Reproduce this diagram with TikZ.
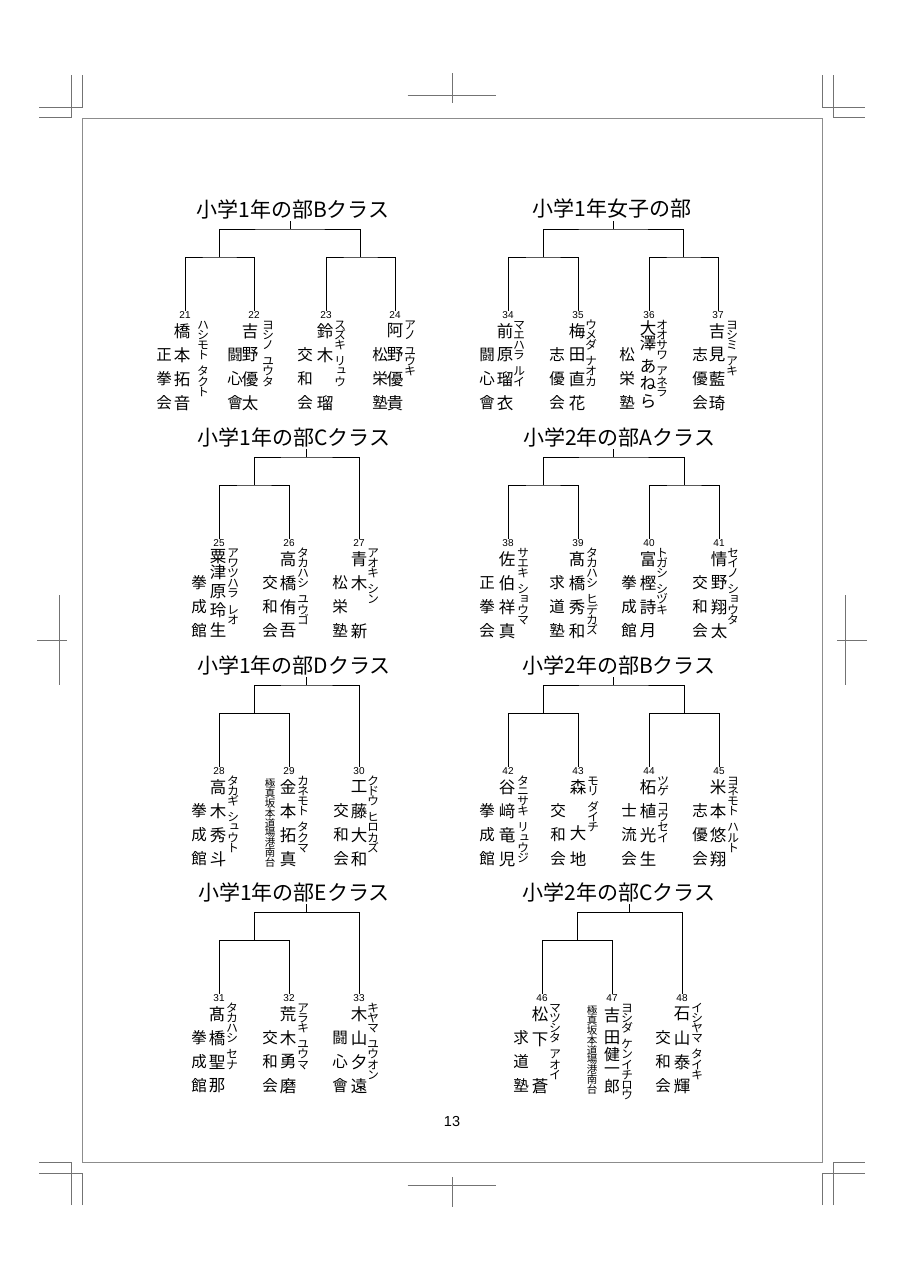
\documentclass[tikz,border=0pt]{standalone}
\usepackage{fontspec}
\newfontfamily\jp{Noto Sans CJK JP}
\newfontfamily\jpv[RawFeature={+vert}]{Noto Sans CJK JP}
\newfontfamily\ar{Liberation Sans}
\tikzset{
  ttl/.style={font=\jp\fontsize{21}{21}\selectfont, inner sep=0pt},
  num/.style={font=\ar\fontsize{10}{10}\selectfont, inner sep=0.5pt},
  nm/.style={font=\jp\fontsize{16.5}{16.5}\selectfont, inner sep=0pt},
  club/.style={font=\jp\fontsize{15.5}{15.5}\selectfont, inner sep=0pt, text height=13.6pt, text depth=1.9pt},
  kana/.style={font=\jpv\fontsize{12}{12}\selectfont, inner sep=0pt, text height=9.56pt, text depth=0.44pt},
  sm/.style={font=\jp\fontsize{10.5}{10.5}\selectfont, inner sep=0pt, text height=9.2pt, text depth=0.4pt},
  br/.style={line width=1pt, black},
  crop/.style={line width=0.6pt, black!55},
  frm/.style={line width=0.9pt, black!45},
  pg/.style={font=\ar\fontsize{14.5}{14.5}\selectfont, inner sep=0pt},
}
\def\spmark{sp}
\newcommand\nmcol[4]{\foreach \oo/\cc [count=\kk] in {#4} {\node[nm] (#1-\kk) at (#2,{#3+\oo}) {\cc};}}
\newcommand\kncol[4]{%
  \gdef\kpos{0}%
  \foreach \cc [count=\kk] in {#4} {%
    \ifx\cc\spmark
      \pgfmathsetmacro\kt{\kpos+0.6}\xdef\kpos{\kt}%
    \else
      \node[kana] (#1-\kk) at (#2,{#3+9.5+\kpos*10.2}) {\cc};%
      \pgfmathsetmacro\kt{\kpos+1}\xdef\kpos{\kt}%
    \fi}}
\newcommand\clcol[4]{\foreach \cc [count=\kk] in {#4} {\node[club] (#1-\kk) at (#2,{#3+16+\kk*24}) {\cc};}}
\newcommand\entry[9]{%
  \node[num] (n#1) at (#2,#3) {#1};
  \nmcol{nm#1}{#4}{#3}{#5}
  \kncol{kn#1}{#6}{#3}{#7}
  \clcol{cl#1}{#8}{#3}{#9}}
\newcommand\entryS[8]{%
  \node[num] (n#1) at (#2,#3) {#1};
  \nmcol{nm#1}{#4}{#3}{#5}
  \kncol{kn#1}{#6}{#3}{#7}
  \foreach \cc [count=\kk] in {極,真,坂,本,道,場,港,南,台} {\node[sm] (cl#1-\kk) at (#8,{#3+12+(\kk-1)*9.9}) {\cc};}}
\newcommand\sq[1]{{\fontsize{15.8}{15.8}\selectfont #1}}
\begin{document}
\begin{tikzpicture}[x=1pt,y=-1pt]
\useasboundingbox (0,0) rectangle (904,1280);
\fill[white] (0,0) rectangle (904,1280);
% frame and crop marks
\draw[frm] (82,118) rectangle (822,1162);
\draw[crop] (71,75) -- (71,117) -- (39,117);
\draw[crop] (82,75) -- (82,107) -- (39,107);
\draw[crop] (833,75) -- (833,117) -- (865,117);
\draw[crop] (822,75) -- (822,107) -- (865,107);
\draw[crop] (71,1205) -- (71,1162) -- (39,1162);
\draw[crop] (82,1205) -- (82,1173) -- (39,1173);
\draw[crop] (833,1205) -- (833,1162) -- (865,1162);
\draw[crop] (822,1205) -- (822,1173) -- (865,1173);
\draw[crop] (407.5,95) -- (496,95);
\draw[crop] (452,73) -- (452,103);
\draw[crop] (407.5,1185) -- (496,1185);
\draw[crop] (452,1177) -- (452,1207);
\draw[crop] (59,595) -- (59,685);
\draw[crop] (37,640) -- (67,640);
\draw[crop] (845,595) -- (845,685);
\draw[crop] (837,640) -- (867,640);
\node[pg] (pnum) at (452,1121) {13};

% ===== B1 left
\node[ttl] (t1) at (293,209) {小学1年の部Bクラス};
\entry{21}{185}{315}{182}{16/橋,40/本,64/拓,88/音}{203}{ハ,シ,モ,ト,sp,タ,ク,ト}{164}{正,拳,会}
\entry{22}{254}{315}{250}{16/吉,40/野,64/優,88/太}{268}{ヨ,シ,ノ,sp,ユ,ウ,タ}{235}{闘,心,會}
\entry{23}{326}{315}{325}{16/鈴,40/木,88/瑠}{340}{ス,ズ,キ,sp,リ,ュ,ウ}{305}{交,和,会}
\entry{24}{395}{315}{395}{16/阿,40/野,64/優,88/貴}{410}{ア,ノ,sp,ユ,ウ,キ}{380}{松,栄,塾}
\coordinate (t1s) at (290,221);
\coordinate (t1h) at (290,229);
\coordinate (t1a) at (219.5,257);
\coordinate (t1b) at (360.5,257);
\draw[br] (t1s) -- (t1h);
\draw[br] (t1a) |- (t1h) -| (t1b);
\draw[br] (n21.north) |- (t1a) -| (n22.north);
\draw[br] (n23.north) |- (t1b) -| (n24.north);

% ===== B1 right
\node[ttl] (t2) at (612,209) {小学1年女子の部};
\entry{34}{508}{315}{505}{16/前,40/原,64/瑠,88/衣}{519}{マ,エ,ハ,ラ,sp,ル,イ}{487}{闘,心,會}
\entry{35}{578}{315}{577}{16/梅,40/田,64/直,88/花}{591}{ウ,メ,ダ,sp,ナ,オ,カ}{557}{志,優,会}
\entry{36}{649}{315}{648}{13/大,28/澤,51/あ,68/ね,87/ら}{662}{オ,オ,サ,ワ,sp,ア,ネ,ラ}{627}{松,栄,塾}
\entry{37}{718}{315}{717}{16/吉,40/見,64/藍,88/琦}{732}{ヨ,シ,ミ,sp,ア,キ}{700}{志,優,会}
\coordinate (t2s) at (613.25,221);
\coordinate (t2h) at (613.25,229);
\coordinate (t2a) at (543,257);
\coordinate (t2b) at (683.5,257);
\draw[br] (t2s) -- (t2h);
\draw[br] (t2a) |- (t2h) -| (t2b);
\draw[br] (n34.north) |- (t2a) -| (n35.north);
\draw[br] (n36.north) |- (t2b) -| (n37.north);

% ===== B2 left
\node[ttl] (t3) at (294,437) {小学1年の部Cクラス};
\entry{25}{219}{543}{218}{14/粟,29/津,49/原,67/玲,87/生}{233}{ア,ワ,ツ,ハ,ラ,sp,レ,オ}{199}{拳,成,館}
\entry{26}{289}{543}{288}{16/高,40/橋,64/侑,88/吾}{303}{タ,カ,ハ,シ,sp,ユ,ウ,ゴ}{270}{交,和,会}
\entry{27}{359}{543}{359}{16/青,40/木,88/新}{373}{ア,オ,キ,sp,シ,ン}{340}{松,栄,塾}
\coordinate (t3s) at (306.5,449);
\coordinate (t3h) at (306.5,457);
\coordinate (t3a) at (254,485);
\draw[br] (t3s) -- (t3h);
\draw[br] (t3a) |- (t3h) -| (n27.north);
\draw[br] (n25.north) |- (t3a) -| (n26.north);

% ===== B2 right
\node[ttl] (t4) at (619,437) {小学2年の部Aクラス};
\entry{38}{508}{543}{507}{16/佐,40/伯,64/祥,88/真}{523}{サ,エ,キ,sp,シ,ョ,ウ,マ}{487}{正,拳,会}
\entry{39}{578}{543}{577}{16/髙,40/橋,64/秀,88/和}{592}{タ,カ,ハ,シ,sp,ヒ,デ,カ,ズ}{557}{求,道,塾}
\entry{40}{649}{543}{648}{16/富,40/樫,64/詩,88/月}{662}{ト,ガ,シ,sp,シ,ヅ,キ}{629}{拳,成,館}
\entry{41}{719}{543}{719}{16/情,40/野,64/翔,88/太}{733}{セ,イ,ノ,sp,シ,ョ,ウ,タ}{700}{交,和,会}
\coordinate (t4s) at (613.5,449);
\coordinate (t4h) at (613.5,457);
\coordinate (t4a) at (543,485);
\coordinate (t4b) at (684,485);
\draw[br] (t4s) -- (t4h);
\draw[br] (t4a) |- (t4h) -| (t4b);
\draw[br] (n38.north) |- (t4a) -| (n39.north);
\draw[br] (n40.north) |- (t4b) -| (n41.north);

% ===== B3 left
\node[ttl] (t5) at (294,665) {小学1年の部Dクラス};
\entry{28}{219}{771}{218}{16/高,40/木,64/秀,88/斗}{233}{タ,カ,ギ,sp,シ,ュ,ウ,ト}{199}{拳,成,館}
\entryS{29}{289}{771}{288}{16/金,40/本,64/拓,88/真}{303}{カ,ネ,モ,ト,sp,タ,ク,マ}{270}
\entry{30}{359}{771}{359}{16/工,40/藤,64/大,88/和}{373}{ク,ド,ウ,sp,ヒ,ロ,カ,ズ}{341}{交,和,会}
\coordinate (t5s) at (306.5,677);
\coordinate (t5h) at (306.5,685);
\coordinate (t5a) at (254,713);
\draw[br] (t5s) -- (t5h);
\draw[br] (t5a) |- (t5h) -| (n30.north);
\draw[br] (n28.north) |- (t5a) -| (n29.north);

% ===== B3 right
\node[ttl] (t6) at (619,665) {小学2年の部Bクラス};
\entry{42}{508}{771}{507}{16/谷,40/﨑,64/竜,88/児}{523}{タ,ニ,サ,キ,sp,リ,ュ,ウ,ジ}{487}{拳,成,館}
\entry{43}{578}{771}{578}{16/森,62/大,88/地}{593}{モ,リ,sp,ダ,イ,チ}{558}{交,和,会}
\entry{44}{649}{771}{648}{16/柘,40/植,64/光,88/生}{663}{ツ,ゲ,sp,コ,ウ,セ,イ}{629}{士,流,会}
\entry{45}{719}{771}{718}{16/米,40/本,64/悠,88/翔}{733}{ヨ,ネ,モ,ト,sp,ハ,ル,ト}{700}{志,優,会}
\coordinate (t6s) at (613.5,677);
\coordinate (t6h) at (613.5,685);
\coordinate (t6a) at (543,713);
\coordinate (t6b) at (684,713);
\draw[br] (t6s) -- (t6h);
\draw[br] (t6a) |- (t6h) -| (t6b);
\draw[br] (n42.north) |- (t6a) -| (n43.north);
\draw[br] (n44.north) |- (t6b) -| (n45.north);

% ===== B4 left
\node[ttl] (t7) at (294,892) {小学1年の部Eクラス};
\entry{31}{219}{998}{217}{16/髙,40/橋,64/聖,88/那}{232}{タ,カ,ハ,シ,sp,セ,ナ}{199}{拳,成,館}
\entry{32}{289}{998}{288}{16/荒,40/木,64/勇,88/磨}{303}{ア,ラ,キ,sp,ユ,ウ,マ}{270}{交,和,会}
\entry{33}{359}{998}{359}{16/木,40/山,64/夕,88/遠}{373}{キ,ヤ,マ,sp,ユ,ウ,オ,ン}{340}{闘,心,會}
\coordinate (t7s) at (306.5,904);
\coordinate (t7h) at (306.5,912);
\coordinate (t7a) at (254,940);
\draw[br] (t7s) -- (t7h);
\draw[br] (t7a) |- (t7h) -| (n33.north);
\draw[br] (n31.north) |- (t7a) -| (n32.north);

% ===== B4 right
\node[ttl] (t8) at (619,892) {小学2年の部Cクラス};
\entry{46}{542}{998}{540}{16/松,42/下,88/蒼}{555}{マ,ツ,シ,タ,sp,ア,オ,イ}{521}{求,道,塾}
\entryS{47}{612}{998}{612}{17/吉,40/田,56.5/\sq{健},72.6/\sq{一},88.8/\sq{郎}}{627}{ヨ,シ,ダ,sp,ケ,ン,イ,チ,ロ,ウ}{592}
\entry{48}{682}{998}{682}{16/石,40/山,64/泰,88/輝}{697}{イ,シ,ヤ,マ,sp,タ,イ,キ}{663}{交,和,会}
\coordinate (t8s) at (629.5,904);
\coordinate (t8h) at (629.5,912);
\coordinate (t8a) at (577,940);
\draw[br] (t8s) -- (t8h);
\draw[br] (t8a) |- (t8h) -| (n48.north);
\draw[br] (n46.north) |- (t8a) -| (n47.north);
\end{tikzpicture}
\end{document}
